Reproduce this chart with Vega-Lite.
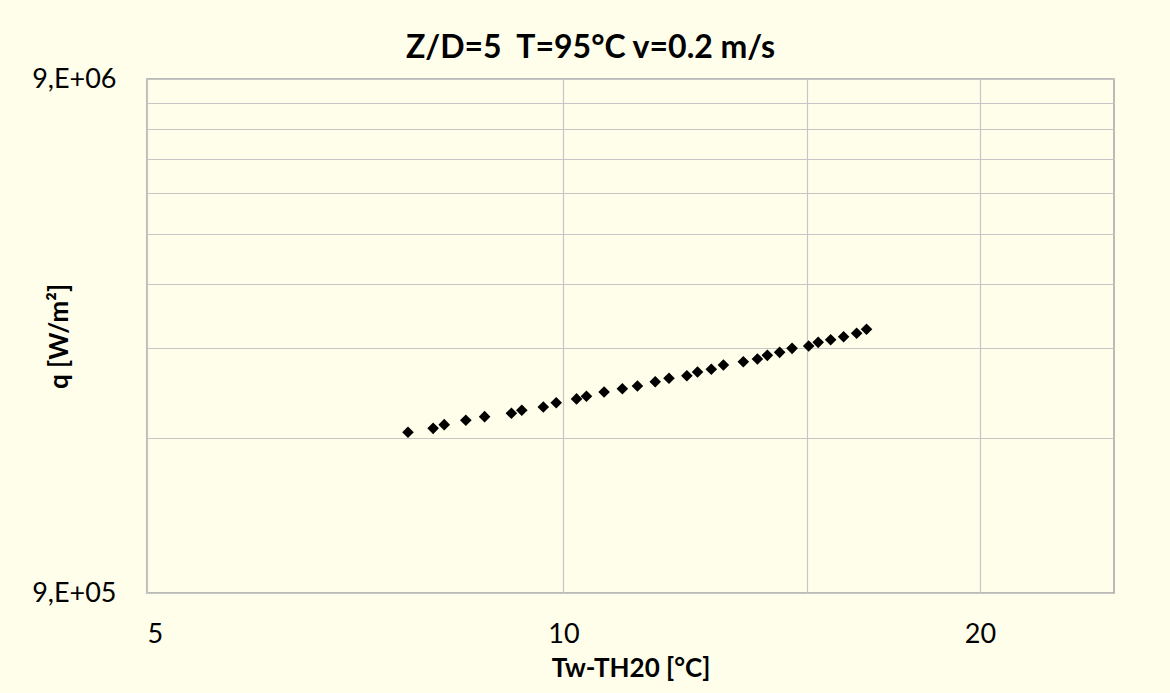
{
  "$schema": "https://vega.github.io/schema/vega-lite/v6.json",
  "width": 967,
  "height": 514,
  "autosize": {"type": "none"},
  "padding": {"left": 147, "top": 79, "right": 56, "bottom": 100},
  "background": "#FEFEEA",
  "title": {
    "text": "Z/D=5\u00a0\u00a0T=95°C v=0.2 m/s",
    "font": "Lato",
    "fontSize": 32,
    "fontWeight": "bold",
    "color": "#000000",
    "anchor": "middle",
    "dx": -40,
    "offset": 0
  },
  "config": {
    "view": {"stroke": "#A5A5A5", "strokeWidth": 1.5, "fill": "#FEFEEA"},
    "axis": {
      "domain": false,
      "ticks": false,
      "gridColor": "#C6C6C6",
      "gridWidth": 1.2,
      "labelFont": "Lato",
      "labelFontSize": 27,
      "labelColor": "#000000",
      "titleFont": "Lato",
      "titleFontSize": 26,
      "titleFontWeight": "bold",
      "titleColor": "#000000"
    }
  },
  "data": {
    "values": [
      {"dT": 7.72, "q": 1849000},
      {"dT": 8.05, "q": 1882000},
      {"dT": 8.20, "q": 1913000},
      {"dT": 8.50, "q": 1951000},
      {"dT": 8.77, "q": 1983000},
      {"dT": 9.17, "q": 2013000},
      {"dT": 9.33, "q": 2041000},
      {"dT": 9.67, "q": 2071000},
      {"dT": 9.88, "q": 2111000},
      {"dT": 10.22, "q": 2147000},
      {"dT": 10.39, "q": 2173000},
      {"dT": 10.70, "q": 2215000},
      {"dT": 11.03, "q": 2247000},
      {"dT": 11.31, "q": 2275000},
      {"dT": 11.65, "q": 2319000},
      {"dT": 11.92, "q": 2355000},
      {"dT": 12.28, "q": 2382000},
      {"dT": 12.50, "q": 2422000},
      {"dT": 12.79, "q": 2452000},
      {"dT": 13.05, "q": 2500000},
      {"dT": 13.49, "q": 2536000},
      {"dT": 13.81, "q": 2567000},
      {"dT": 14.04, "q": 2610000},
      {"dT": 14.33, "q": 2645000},
      {"dT": 14.63, "q": 2693000},
      {"dT": 15.04, "q": 2721000},
      {"dT": 15.28, "q": 2766000},
      {"dT": 15.60, "q": 2799000},
      {"dT": 15.94, "q": 2837000},
      {"dT": 16.29, "q": 2881000},
      {"dT": 16.56, "q": 2933000}
    ]
  },
  "mark": {"type": "point", "shape": "diamond", "filled": true, "color": "#000000", "size": 135, "opacity": 1},
  "encoding": {
    "x": {
      "field": "dT",
      "type": "quantitative",
      "scale": {"type": "log", "domain": [5, 25], "nice": false},
      "axis": {
        "title": "Tw-TH20 [°C]",
        "values": [5, 10, 15, 20],
        "labelExpr": "datum.value == 15 ? '' : format(datum.value, 'd')",
        "labelPadding": 28,
        "titlePadding": 8
      }
    },
    "y": {
      "field": "q",
      "type": "quantitative",
      "scale": {"type": "log", "domain": [900000, 9000000], "nice": false},
      "axis": {
        "title": "q [W/m²]",
        "values": [900000, 1800000, 2700000, 3600000, 4500000, 5400000, 6300000, 7200000, 8100000, 9000000],
        "labelExpr": "datum.value == 900000 ? '9,E+05' : datum.value == 9000000 ? '9,E+06' : ''",
        "labelPadding": 31,
        "titleX": -75
      }
    }
  }
}
